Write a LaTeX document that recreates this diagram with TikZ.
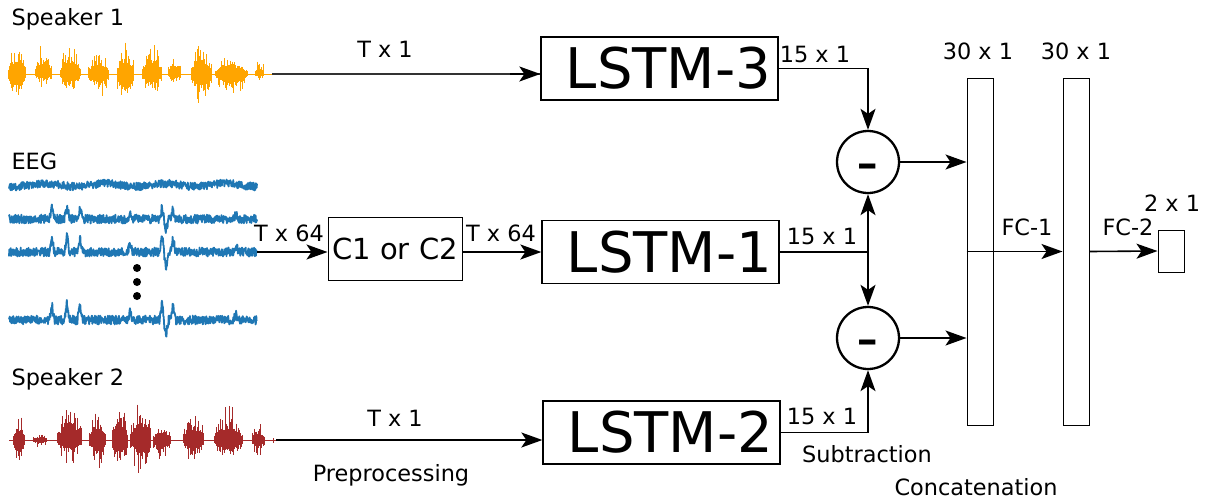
\documentclass[tikz,border=0pt]{standalone}
\usepackage{fontspec}
\setmainfont{DejaVu Sans}
\usetikzlibrary{arrows.meta, positioning, calc}
\definecolor{speakerone}{HTML}{FFA500}
\definecolor{speakertwo}{HTML}{A52A2A}
\definecolor{eegblue}{HTML}{1F77B4}
\definecolor{wiregray}{HTML}{333333}

\begin{document}
\begin{tikzpicture}[
  x=1pt, y=-1pt,
  every node/.style={font=\fontsize{22.4}{26}\selectfont},
  lstm/.style={
    rectangle, draw, line width=1.3pt,
    minimum width=237pt, minimum height=63pt,
    inner sep=0pt, font=\fontsize{56}{60}\selectfont,
    execute at begin node=\hspace*{18pt},
  },
  convbox/.style={
    rectangle, draw, line width=1pt,
    minimum width=134pt, minimum height=63pt,
    inner sep=0pt, font=\fontsize{29}{32}\selectfont,
  },
  subtract/.style={
    circle, draw, line width=2.3pt, minimum size=62pt,
    inner sep=0pt, font=\fontsize{62}{62}\selectfont,
  },
  layer/.style={
    rectangle, draw, line width=1pt,
    minimum width=26pt, minimum height=347pt, inner sep=0pt,
  },
  dimlabel/.style={anchor=base},
  arrow/.style={-{Stealth[length=21pt, width=15pt, inset=5pt]}, line width=1.6pt},
  wire/.style={line width=1.6pt},
  spkone/.style={speakerone, line width=1pt},
  spktwo/.style={speakertwo, line width=1pt},
  eeg/.style={eegblue, line width=1.8pt, line join=round},
  declare function={
    tri(\t,\c)=max(0,1-abs(\t-\c)/2.5);
    eegspk(\t)=-14*tri(\t,52)-16*tri(\t,67)-13*tri(\t,80)-7*tri(\t,130)
      -15*tri(\t,162)+14*tri(\t,166)-13*tri(\t,173)-6*tri(\t,236);
  },
]
\useasboundingbox (0,0) rectangle (1206,501);
\pgfmathsetseed{11}

% Inputs
\node[anchor=base west] (spk1lbl) at (8,25)  {Speaker 1};
\node[anchor=base west] (eeglbl)  at (8,169) {EEG};
\node[anchor=base west] (spk2lbl) at (8,385) {Speaker 2};

\coordinate (s1end) at (272,74);
\coordinate (s2end) at (276,440);
\coordinate (e3end) at (257,252);

% Speaker 1 waveform
\draw[spkone] (9,74) -- (s1end);
\foreach \xa/\xb/\hu/\hd in {8/27/36/36, 35/52/34/14, 60/81/36/23,
    88/109/30/26, 117/135/35/44, 142/162/36/26, 168/182/24/12,
    191/213/35/34, 215/248/22/26, 255/265/16/8}{
  \pgfmathtruncatemacro\ncol{(\xb-\xa)/0.8}
  \foreach \i in {0,...,\ncol}{
    \pgfmathsetmacro\xc{\xa+0.8*\i}
    \pgfmathsetmacro\env{sqrt(abs(sin(180*\i/\ncol)))}
    \pgfmathsetmacro\up{74-\hu*\env*(0.3+0.7*rnd*rnd)}
    \pgfmathsetmacro\dn{74+\hd*\env*(0.3+0.7*rnd*rnd)}
    \draw[spkone] (\xc,\up) -- (\xc,\dn);
  }
}

% Speaker 2 waveform
\draw[spktwo] (9,440) -- (s2end);
\foreach \xa/\xb/\hu/\hd in {13/25/28/30, 33/48/8/8, 57/83/38/26,
    89/107/35/30, 112/128/43/35, 130/152/44/35, 153/172/20/22,
    183/205/27/26, 214/243/35/26, 252/265/20/18, 273/275/5/5}{
  \pgfmathtruncatemacro\ncol{(\xb-\xa)/0.8}
  \foreach \i in {0,...,\ncol}{
    \pgfmathsetmacro\xc{\xa+0.8*\i}
    \pgfmathsetmacro\env{sqrt(abs(sin(180*\i/max(\ncol,1))))}
    \pgfmathsetmacro\up{440-\hu*\env*(0.3+0.7*rnd*rnd)}
    \pgfmathsetmacro\dn{440+\hd*\env*(0.3+0.7*rnd*rnd)}
    \draw[spktwo] (\xc,\up) -- (\xc,\dn);
  }
}

% EEG channels
\draw[eeg] plot[samples=700, domain=9:257] (\x, {185+4*rand+1.5*sin(6*\x)});
\draw[eeg] plot[samples=700, domain=9:257] (\x, {219+4.5*rand+0.8*eegspk(\x)});
\draw[eeg] plot[samples=700, domain=9:257] (\x, {252+4.5*rand+1.1*eegspk(\x)});
\draw[eeg] plot[samples=700, domain=9:257] (\x, {320+4.5*rand+1.1*eegspk(\x)});
\foreach \yd in {268,282,296}
  \fill (137,\yd) circle[radius=4];

% Processing blocks
\node[convbox] (cbox)  at (395,249)   {C1 or C2};
\node[lstm]    (lstm3) at (659.5,68.5) {LSTM-3};
\node[lstm]    (lstm1) at (660.5,252)  {LSTM-1};
\node[lstm]    (lstm2) at (661.5,432.5) {LSTM-2};

\node[subtract] (sub1) at (868,162) {\raisebox{-0.35em}[0pt][0pt]{-}};
\node[subtract] (sub2) at (868,338) {\raisebox{-0.35em}[0pt][0pt]{-}};

\node[layer] (concat) at (980,251.5)  {};
\node[layer] (fc1)    at (1076,251.5) {};
\node[layer, minimum height=42pt] (out) at (1171,251) {};

% Input arrows
\draw[wiregray, wire] (s1end) -- (s1end -| lstm3.west);
\draw[arrow] ($(s1end -| lstm3.west)+(-30,0)$) -- (s1end -| lstm3.west);
\draw[arrow] (s2end) -- (s2end -| lstm2.west);
\draw[arrow] (e3end) -- (e3end -| cbox.west);
\draw[arrow] (cbox.east |- lstm1.west) -- (lstm1.west);

% LSTM outputs into subtraction
\coordinate (split) at (lstm1.east -| sub1);
\draw[arrow] (lstm3.east) -| (sub1.north);
\draw[wire] (lstm1.east) -- (split);
\draw[arrow] (split) -- (sub1.south);
\draw[arrow] (split) -- (sub2.north);
\draw[arrow] (lstm2.east) -| (sub2.south);

% Concatenation and fully connected layers
\draw[arrow] (sub1.east) -- (sub1.east -| concat.west);
\draw[arrow] (sub2.east) -- (sub2.east -| concat.west);
\draw[arrow] (concat.west) -- (fc1.west);
\draw[arrow] (fc1.east) -- (out.west);

% Dimension labels
\node[dimlabel] (tx1a)  at (385,57)   {T x 1};
\node[dimlabel] (tx1b)  at (395,426)  {T x 1};
\node[dimlabel] (tx64a) at (289,241)  {T x 64};
\node[dimlabel] (tx64b) at (501,241)  {T x 64};
\node[dimlabel] (d15a)  at (815,62)   {15 x 1};
\node[dimlabel] (d15b)  at (822,244)  {15 x 1};
\node[dimlabel] (d15c)  at (822,424)  {15 x 1};
\node[dimlabel] (d30a)  at (978,59)   {30 x 1};
\node[dimlabel] (d30b)  at (1076,59)  {30 x 1};
\node[dimlabel] (d2)    at (1172,211) {2 x 1};
\node[dimlabel] (fc1lbl) at (1027,235) {FC-1};
\node[dimlabel] (fc2lbl) at (1128,235) {FC-2};

% Stage names
\node[dimlabel] (prep)  at (391,481) {Preprocessing};
\node[dimlabel] (subl)  at (867,462) {Subtraction};
\node[dimlabel] (catl)  at (976,495) {Concatenation};

\end{tikzpicture}
\end{document}
